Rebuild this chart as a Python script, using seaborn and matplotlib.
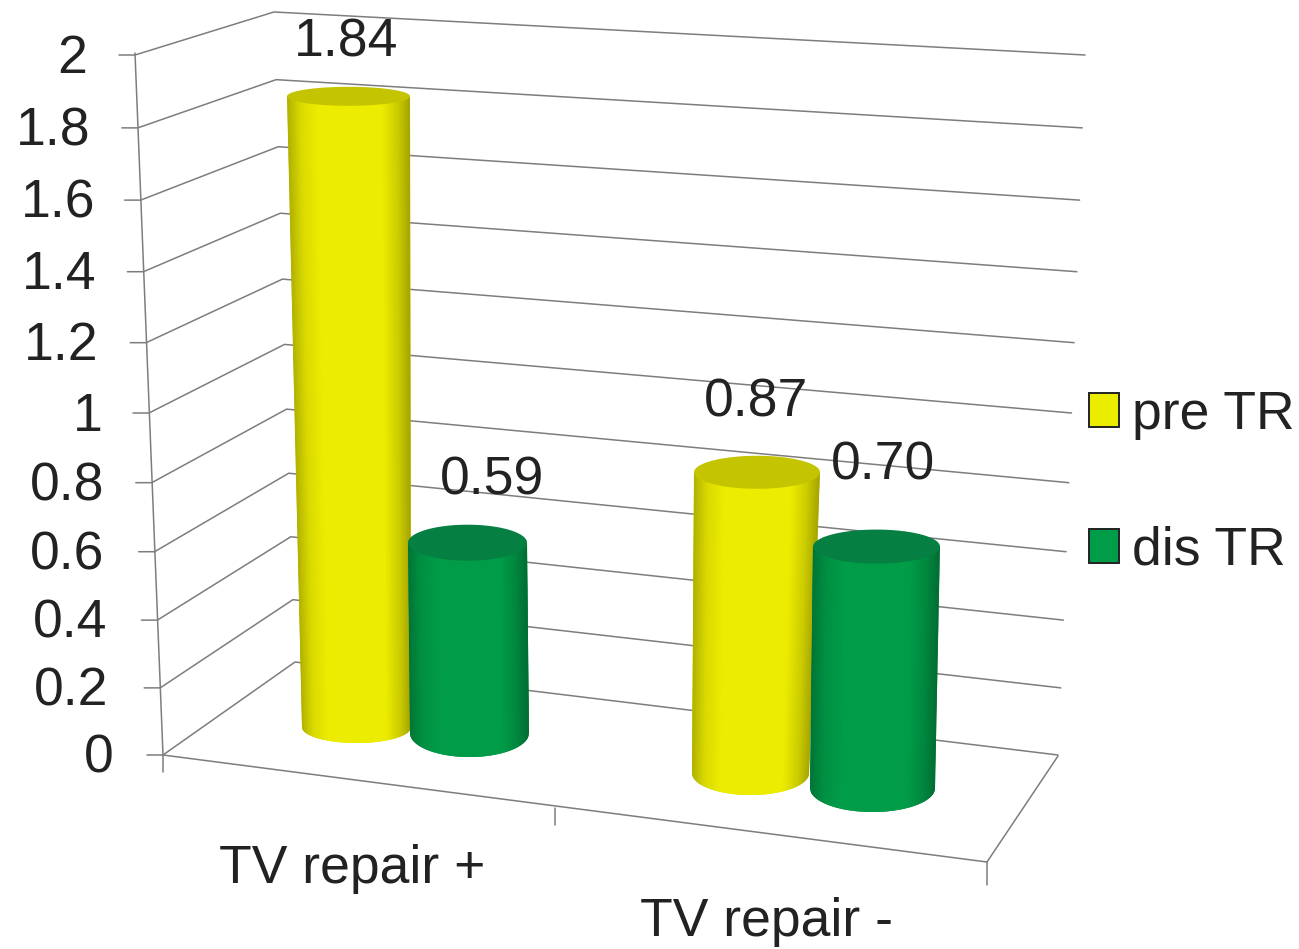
import numpy as np
import pandas as pd
import matplotlib
matplotlib.use("Agg")
import matplotlib.pyplot as plt
from matplotlib.colors import to_rgb
from matplotlib.collections import PolyCollection
from matplotlib.patches import Patch, Polygon
from matplotlib.transforms import Affine2D
import seaborn as sns

# Chart values
categories = ["TV repair +", "TV repair -"]
series = ["pre TR", "dis TR"]
pre_tr = [1.84, 0.87]
dis_tr = [0.59, 0.70]
value_ticks = [0, 0.2, 0.4, 0.6, 0.8, 1, 1.2, 1.4, 1.6, 1.8, 2]
value_tick_labels = ["0", "0.2", "0.4", "0.6", "0.8", "1", "1.2", "1.4", "1.6", "1.8", "2"]

# Colours: side of the cylinder, its lid, legend swatch
body_colors = {"pre TR": "#ecec00", "dis TR": "#009c48"}
cap_colors = {"pre TR": "#c4c400", "dis TR": "#067f42"}
grid_color = "#7d7d7d"
text_color = "#222222"

# Canvas layout, measured in canvas pixels from the top left corner
WIDTH, HEIGHT = 1299, 949
ZERO_ROW = 755.0
RISE_LINEAR, RISE_QUAD = 334.0, 8.0   # foreshortening of the value axis

# One entry per cylinder, in drawing order
cyl_top_left = [287, 408, 694, 813]
cyl_top_right = [410, 527, 820, 940]
cyl_base_left = [302, 410, 692, 810]
cyl_base_right = [411, 529, 809, 935]
cyl_base_row = [727, 733, 773, 788]
cyl_lid_minor = [9.5, 18, 16.5, 17]
cyl_base_minor = [16, 24, 22, 24]
cyl_depth_scale = [0.98, 0.95, 1.016, 1.02]
label_shift = [(-2, 54), (25, 62), (-1, 70), (7, 81)]
tick_label_right = [114, 108, 107, 104, 104, 103, 98, 96, 95, 90, 87]
tick_label_drop = 3.5


def rise(v):
    v = np.asarray(v, dtype=float)
    return RISE_LINEAR * v + RISE_QUAD * v ** 2


def unrise(p):
    p = np.asarray(p, dtype=float)
    root = np.sqrt(np.maximum(RISE_LINEAR ** 2 + 4 * RISE_QUAD * p, 0.0))
    return (root - RISE_LINEAR) / (2 * RISE_QUAD)


def value_at_row(row):
    return unrise(ZERO_ROW - np.asarray(row, dtype=float))


def row_at_value(v):
    return ZERO_ROW - rise(v)


def shade(color, factor):
    return tuple(c * factor for c in to_rgb(color))


sns.set_theme(style="white")
plt.rcParams["font.family"] = ["Liberation Sans", "DejaVu Sans"]

fig = plt.figure(figsize=(WIDTH / 100, HEIGHT / 100), dpi=100, facecolor="white")
ax = fig.add_axes([0, 0, 1, 1])

rows = pd.DataFrame({
    "category": [c for c in categories for _ in series],
    "series": series * len(categories),
    "value": [pre_tr[0], dis_tr[0], pre_tr[1], dis_tr[1]],
})

# Bars sit on their own floor position, so each one is placed separately
bars = []
for i, rec in rows.iterrows():
    centre = (cyl_base_left[i] + cyl_base_right[i]) / 2
    floor = float(value_at_row(cyl_base_row[i]))
    before = len(ax.patches)
    sns.barplot(
        x=[centre],
        y=[rec["value"] * cyl_depth_scale[i]],
        native_scale=True,
        width=cyl_base_right[i] - cyl_base_left[i],
        color=body_colors[rec["series"]],
        saturation=1,
        errorbar=None,
        bottom=floor,
        linewidth=0,
        zorder=3 + i,
        ax=ax,
    )
    bars.append(ax.patches[before])

ax.set_yscale("function", functions=(rise, unrise))
ax.set_xlim(0, WIDTH)
ax.set_ylim(float(unrise(ZERO_ROW - HEIGHT)), float(unrise(ZERO_ROW)))
ax.set_xlabel("")
ax.set_ylabel("")
for spine in ax.spines.values():
    spine.set_visible(False)

line_kw = dict(color=grid_color, lw=1.1, solid_capstyle="round", zorder=1)


def pixel_line(xs, ys):
    ax.plot(xs, value_at_row(ys), **line_kw)


# Walls: every level runs from the front edge to the far corner, then across
for v in value_ticks:
    front_x = 163 - 14 * v
    corner_x = 295 - 10.5 * v
    end_x = 1058 + 13.5 * v
    front_row = row_at_value(v)
    corner_row = 662 - 0.9286 * rise(v)
    pixel_line(
        [front_x - 16, front_x, corner_x, end_x],
        [front_row, front_row, corner_row, front_row],
    )

# Front edge of the left wall and the floor outline
pixel_line([135, 163, 163], [53, 755, 772])
pixel_line([163, 987, 1058], [755, 862, 756])
pixel_line([555, 555], [808, 825])
pixel_line([987, 987], [862, 885])

# Cylinders: shaded side strips trimmed to the outline, then the lid
profile_t = [-1.0, -0.78, -0.5, 0.55, 0.8, 1.0]
profile_s = [0.74, 0.92, 1.00, 1.00, 0.87, 0.70]
for i, (rec, bar) in enumerate(zip(rows.to_dict("records"), bars)):
    name = rec["series"]
    lid_row = float(row_at_value(bar.get_y() + bar.get_height()))
    lid_c = (cyl_top_left[i] + cyl_top_right[i]) / 2
    lid_r = (cyl_top_right[i] - cyl_top_left[i]) / 2
    base_c = (cyl_base_left[i] + cyl_base_right[i]) / 2
    base_r = (cyl_base_right[i] - cyl_base_left[i]) / 2
    foot_bottom = cyl_base_row[i] + cyl_base_minor[i] + 2

    t = np.linspace(-1, 1, 91)
    quads, colors = [], []
    for a, b in zip(t[:-1], t[1:]):
        xs = [lid_c + a * lid_r, lid_c + b * lid_r, base_c + b * base_r, base_c + a * base_r]
        ys = [lid_row, lid_row, foot_bottom, foot_bottom]
        quads.append(np.column_stack([xs, value_at_row(ys)]))
        colors.append(shade(body_colors[name], np.interp((a + b) / 2, profile_t, profile_s)))
    side = PolyCollection(quads, facecolors=colors, edgecolors=colors,
                          linewidths=0.8, zorder=3 + i)
    ax.add_collection(side)

    # Outline of the visible side: straight flanks closed by the front of the foot
    arc = np.linspace(0, np.pi, 81)
    outline_x = np.r_[lid_c - lid_r, lid_c + lid_r, base_c + base_r * np.cos(arc)]
    outline_y = np.r_[lid_row, lid_row, cyl_base_row[i] + cyl_base_minor[i] * np.sin(arc)]
    outline = Polygon(np.column_stack([outline_x, value_at_row(outline_y)]),
                      closed=True, transform=ax.transData)
    side.set_clip_path(outline)
    bar.set_clip_path(outline)

    angle = np.linspace(0, 2 * np.pi, 121)
    lid_xy = np.column_stack([
        lid_c + lid_r * np.cos(angle),
        value_at_row(lid_row + cyl_lid_minor[i] * np.sin(angle)),
    ])
    ax.add_patch(Polygon(lid_xy, closed=True, facecolor=cap_colors[name],
                         edgecolor="none", zorder=3 + i))

    # Value label above the lid
    ax.annotate(
        f"{rec['value']:.2f}",
        xy=(lid_c, bar.get_y() + bar.get_height()),
        xytext=label_shift[i],
        textcoords="offset pixels",
        ha="center", va="center",
        fontsize=38.5, color=text_color, zorder=20,
    )

# Value axis labels follow the slanted front edge
ax.set_yticks(value_ticks, value_tick_labels)
ax.tick_params(axis="y", length=0, pad=0, labelsize=38.5, labelcolor=text_color, left=False)
for tick, right_px in zip(ax.yaxis.get_major_ticks(), tick_label_right):
    tick.label1.set_x(right_px / WIDTH)
    tick.label1.set_verticalalignment("center")
    tick.label1.set_transform(tick.label1.get_transform() + Affine2D().translate(0, -tick_label_drop))

# Category labels are staggered along the floor edge
ax.set_xticks([352, 767], categories)
ax.tick_params(axis="x", length=0, pad=0, labelsize=38.5, labelcolor=text_color, bottom=False)
for tick, row_px in zip(ax.xaxis.get_major_ticks(), [844, 897]):
    tick.label1.set_y(1 - row_px / HEIGHT)

handles = [Patch(facecolor=body_colors[s], edgecolor="#222222", linewidth=1.4, label=s) for s in series]
legend = ax.legend(
    handles=handles,
    loc="upper left",
    bbox_to_anchor=(1089 / WIDTH, 1 - 390 / HEIGHT),
    frameon=False,
    fontsize=38.5,
    labelcolor=text_color,
    handlelength=0.56,
    handleheight=0.6,
    handletextpad=0.24,
    labelspacing=1.6,
    borderpad=0,
    borderaxespad=0,
)

fig.savefig("out.png", dpi=100, facecolor="white")
